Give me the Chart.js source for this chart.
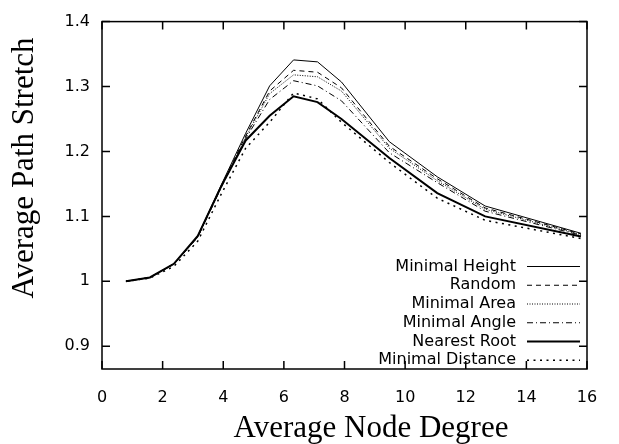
<!DOCTYPE html>
<html>
<head>
<meta charset="utf-8">
<script src="https://cdn.jsdelivr.net/npm/chart.js@4.4.0/dist/chart.umd.min.js"></script>
<style>
  body { margin: 0; background: #fff; }
  canvas { display: block; }
</style>
</head>
<body>
<canvas id="grafico" width="619" height="444"></canvas>
<script>
// Grau médio dos nós (eixo x)
const grauMedio = [0.79, 1.58, 2.37, 3.16, 3.95, 4.74, 5.53, 6.32, 7.11, 7.9, 9.48, 11.06, 12.64, 15.8];

// Valores de cada série (eixo y)
const minimalHeight   = [1.0, 1.006, 1.027, 1.070, 1.150, 1.228, 1.301, 1.341, 1.338, 1.307, 1.215, 1.161, 1.116, 1.074];
const randomSel       = [1.0, 1.006, 1.027, 1.069, 1.148, 1.224, 1.293, 1.325, 1.322, 1.298, 1.208, 1.158, 1.113, 1.073];
const minimalArea     = [1.0, 1.006, 1.026, 1.068, 1.147, 1.222, 1.289, 1.318, 1.315, 1.293, 1.205, 1.155, 1.111, 1.072];
const minimalAngle    = [1.0, 1.006, 1.026, 1.068, 1.146, 1.220, 1.280, 1.309, 1.301, 1.278, 1.198, 1.152, 1.108, 1.071];
const nearestRoot     = [1.0, 1.006, 1.027, 1.070, 1.148, 1.217, 1.255, 1.285, 1.276, 1.250, 1.190, 1.136, 1.100, 1.069];
const minimalDistance = [1.0, 1.005, 1.023, 1.062, 1.136, 1.205, 1.245, 1.290, 1.281, 1.245, 1.183, 1.128, 1.094, 1.066];

// Nomes das séries, na ordem da legenda
const nomes = ["Minimal Height", "Random", "Minimal Area", "Minimal Angle", "Nearest Root", "Minimal Distance"];

// Marcas dos eixos
const xTicks = [0, 2, 4, 6, 8, 10, 12, 14, 16];
const yTicks = [0.9, 1, 1.1, 1.2, 1.3, 1.4];

// Estilo de cada linha (espessura e tracejado)
const estilos = [
    { borderWidth: 1,   borderDash: [] },
    { borderWidth: 1,   borderDash: [5, 4] },
    { borderWidth: 1,   borderDash: [1, 1.5] },
    { borderWidth: 1,   borderDash: [6, 3, 1, 3] },
    { borderWidth: 2,   borderDash: [] },
    { borderWidth: 1.5, borderDash: [2, 4.5] }
];

const series = [minimalHeight, randomSel, minimalArea, minimalAngle, nearestRoot, minimalDistance];

// Junta x e y em pontos
function pontos(valores) {
    return grauMedio.map((g, i) => ({ x: g, y: valores[i] }));
}

// Moldura com marcas para dentro, nos quatro lados
const moldura = {
    id: "moldura",
    afterDraw(chart) {
        const { ctx, chartArea: a, scales } = chart;
        const tam = 8;
        ctx.save();
        ctx.strokeStyle = "#000";
        ctx.lineWidth = 1.5;
        ctx.setLineDash([]);
        ctx.strokeRect(a.left, a.top, a.right - a.left, a.bottom - a.top);
        ctx.beginPath();
        scales.x.ticks.forEach(t => {
            const px = scales.x.getPixelForValue(t.value);
            ctx.moveTo(px, a.bottom); ctx.lineTo(px, a.bottom - tam);
            ctx.moveTo(px, a.top); ctx.lineTo(px, a.top + tam);
        });
        scales.y.ticks.forEach(t => {
            const py = scales.y.getPixelForValue(t.value);
            ctx.moveTo(a.left, py); ctx.lineTo(a.left + tam, py);
            ctx.moveTo(a.right, py); ctx.lineTo(a.right - tam, py);
        });
        ctx.stroke();
        ctx.restore();
    }
};

// Legenda dentro do gráfico, no canto inferior direito
const legendaInterna = {
    id: "legendaInterna",
    afterDraw(chart) {
        const ctx = chart.ctx;
        ctx.save();
        ctx.font = "16px 'DejaVu Sans'";
        ctx.fillStyle = "#000";
        ctx.strokeStyle = "#000";
        ctx.textAlign = "right";
        ctx.textBaseline = "middle";
        chart.data.datasets.forEach((ds, i) => {
            const y = 266.5 + i * 18.75;
            ctx.fillText(ds.label, 516, y);
            ctx.lineWidth = ds.borderWidth;
            ctx.setLineDash(ds.borderDash);
            ctx.beginPath();
            ctx.moveTo(527, y);
            ctx.lineTo(580, y);
            ctx.stroke();
        });
        ctx.restore();
    }
};

// Títulos dos eixos em fonte serifada
const titulos = {
    id: "titulos",
    afterDraw(chart) {
        const ctx = chart.ctx;
        ctx.save();
        ctx.fillStyle = "#000";
        ctx.font = "31px 'Liberation Serif'";
        ctx.textAlign = "center";
        ctx.textBaseline = "alphabetic";
        ctx.fillText("Average Node Degree", 371, 437);
        ctx.translate(33, 168);
        ctx.rotate(-Math.PI / 2);
        ctx.fillText("Average Path Stretch", 0, 0);
        ctx.restore();
    }
};

const fonteTicks = { family: "'DejaVu Sans'", size: 16 };

new Chart(document.getElementById("grafico"), {
    type: "line",
    data: {
        datasets: series.map((s, i) => ({
            label: nomes[i],
            data: pontos(s),
            borderColor: "#000",
            borderWidth: estilos[i].borderWidth,
            borderDash: estilos[i].borderDash,
            pointRadius: 0,
            fill: false,
            tension: 0
        }))
    },
    options: {
        responsive: false,
        animation: false,
        layout: { padding: { top: 19, right: 32, left: 0, bottom: 0 } },
        plugins: {
            legend: { display: false },
            tooltip: { enabled: false }
        },
        scales: {
            x: {
                type: "linear",
                min: 0,
                max: 16,
                afterBuildTicks: s => { s.ticks = xTicks.map(v => ({ value: v })); },
                afterFit: s => { s.height = 75; },
                grid: { display: false, drawTicks: false },
                border: { display: false },
                ticks: { color: "#000", font: fonteTicks, padding: 19, maxRotation: 0 }
            },
            y: {
                type: "linear",
                min: 0.865,
                max: 1.4,
                afterBuildTicks: s => { s.ticks = yTicks.map(v => ({ value: v })); },
                afterFit: s => { s.width = 102; },
                grid: { display: false, drawTicks: false },
                border: { display: false },
                ticks: { color: "#000", font: fonteTicks, padding: 12, callback: v => String(v) }
            }
        }
    },
    plugins: [moldura, legendaInterna, titulos]
});
</script>
</body>
</html>
